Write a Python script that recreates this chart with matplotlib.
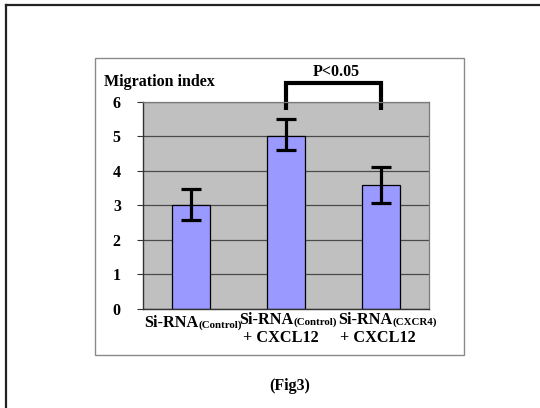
import numpy as np
import matplotlib.pyplot as plt
from matplotlib.offsetbox import TextArea, HPacker, AnnotationBbox
from matplotlib.patches import Rectangle

# datos
grupos = ['Si-RNA', 'Si-RNA', 'Si-RNA']
subindices = ['(Control)', '(Control)', '(CXCR4)']
segunda_linea = ['', '+ CXCL12', '+ CXCL12']
indice = [3.0, 5.0, 3.6]
error_sup = [0.47, 0.5, 0.5]
error_inf = [0.42, 0.4, 0.52]
comparacion = (1, 2)
p_texto = 'P<0.05'
p_altura = 6.55
p_pata = 5.77
y_ticks = [0, 1, 2, 3, 4, 5, 6]

plt.rcParams['font.family'] = ['Liberation Serif', 'DejaVu Serif']
plt.rcParams['font.weight'] = 'bold'

fig = plt.figure(figsize=(5.4, 4.08), dpi=100)
fig.patch.set_facecolor('white')

# marcos exteriores
fig.add_artist(plt.Line2D([0.011, 0.011], [0, 0.988], color='#222222', lw=1.6))
fig.add_artist(plt.Line2D([0.011, 1.0], [0.988, 0.988], color='#222222', lw=1.6))
fig.add_artist(Rectangle((0.176, 0.130), 0.683, 0.729, transform=fig.transFigure,
                         fill=False, edgecolor='#8a8a8a', lw=1.0))

ax = fig.add_axes([0.2648, 0.2426, 0.5289, 0.5081])
ax.set_facecolor('#c0c0c0')
x = np.arange(len(indice))
ax.set_axisbelow(True)
ax.yaxis.grid(True, color='#4a4a4a', lw=0.9)
ax.bar(x, indice, width=0.4, color='#9999ff', edgecolor='black', lw=0.9, zorder=2)
ax.errorbar(x, indice, yerr=[error_inf, error_sup], fmt='none', ecolor='black',
            elinewidth=2.3, capsize=7, capthick=2.3, zorder=3)

ax.set_xlim(-0.5, 2.5)
ax.set_ylim(0, 6)
ax.set_yticks(y_ticks)
ax.set_yticklabels([str(t) for t in y_ticks], fontsize=11.5, fontweight='bold')
ax.tick_params(axis='y', length=4, width=0.8, color='#333333', pad=12)
ax.set_xticks([])
for s in ['left', 'bottom']:
    ax.spines[s].set_color('#333333')
    ax.spines[s].set_linewidth(1.0)
for s in ['top', 'right']:
    ax.spines[s].set_color('#7a7a7a')
    ax.spines[s].set_linewidth(0.9)

# corchete de significancia
a, b = comparacion
ax.plot([a, a, b, b], [p_pata, p_altura, p_altura, p_pata], color='black', lw=3,
        clip_on=False, solid_joinstyle='miter', solid_capstyle='butt')
ax.text((a + b) / 2 + 0.03, p_altura + 0.08, p_texto, ha='center', va='bottom',
        fontsize=11.5, fontweight='bold')

fig.text(0.193, 0.800, 'Migration index', fontsize=11.5, fontweight='bold', va='center')

# etiquetas del eje x con subindice (desplazamientos en puntos)
dx1 = [1.7, 1.9, 5.0]
dy1 = [-4.5, -2.5, -2.5]
dx2 = [0, -3.6, -2.6]
for i in range(len(indice)):
    t1 = TextArea(grupos[i], textprops=dict(fontsize=11.7, fontweight='bold'))
    t2 = TextArea(subindices[i], textprops=dict(fontsize=7.8, fontweight='bold'))
    caja = HPacker(children=[t1, t2], align='baseline', pad=0, sep=0)
    ab = AnnotationBbox(caja, (x[i], 0), xybox=(dx1[i], dy1[i]), xycoords='data',
                        boxcoords='offset points', box_alignment=(0.5, 1),
                        frameon=False, annotation_clip=False)
    ax.add_artist(ab)
    if segunda_linea[i]:
        ax.annotate(segunda_linea[i], (x[i], 0), xytext=(dx2[i], -15),
                    textcoords='offset points', ha='center', va='top',
                    fontsize=11.7, fontweight='bold', annotation_clip=False)

fig.text(0.537, 0.035, '(Fig3)', ha='center', va='bottom', fontsize=11.5, fontweight='bold')

fig.savefig('out.png', dpi=100)
